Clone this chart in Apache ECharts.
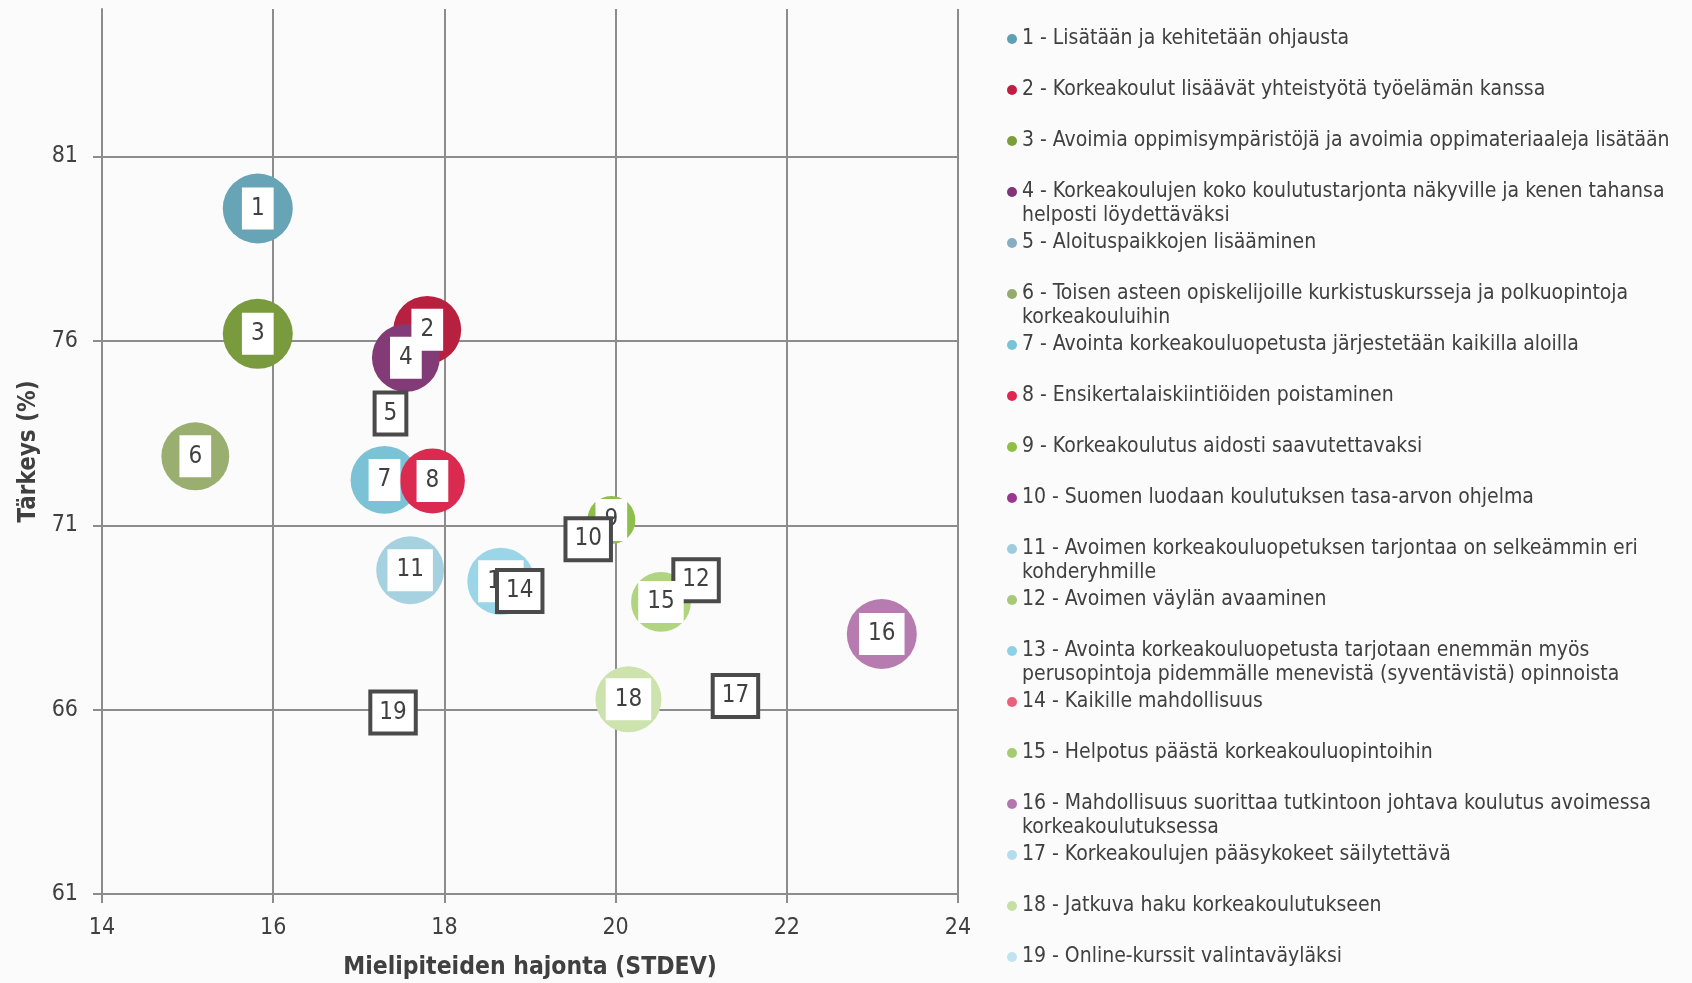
<!DOCTYPE html>
<html>
<head>
<meta charset="utf-8">
<script src="https://cdn.jsdelivr.net/npm/echarts@6/dist/echarts.min.js"></script>
<style>
  html, body { margin: 0; padding: 0; background: #fbfbfb; }
  #chart { width: 1692px; height: 983px; }
</style>
</head>
<body>
<div id="chart"></div>
<script>
// toimenpiteet (legend texts)
var names = [
  '1 - Lisätään ja kehitetään ohjausta',
  '2 - Korkeakoulut lisäävät yhteistyötä työelämän kanssa',
  '3 - Avoimia oppimisympäristöjä ja avoimia oppimateriaaleja lisätään',
  '4 - Korkeakoulujen koko koulutustarjonta näkyville ja kenen tahansa\nhelposti löydettäväksi',
  '5 - Aloituspaikkojen lisääminen',
  '6 - Toisen asteen opiskelijoille kurkistuskursseja ja polkuopintoja\nkorkeakouluihin',
  '7 - Avointa korkeakouluopetusta järjestetään kaikilla aloilla',
  '8 - Ensikertalaiskiintiöiden poistaminen',
  '9 - Korkeakoulutus aidosti saavutettavaksi',
  '10 - Suomen luodaan koulutuksen tasa-arvon ohjelma',
  '11 - Avoimen korkeakouluopetuksen tarjontaa on selkeämmin eri\nkohderyhmille',
  '12 - Avoimen väylän avaaminen',
  '13 - Avointa korkeakouluopetusta tarjotaan enemmän myös\nperusopintoja pidemmälle menevistä (syventävistä) opinnoista',
  '14 - Kaikille mahdollisuus',
  '15 - Helpotus päästä korkeakouluopintoihin',
  '16 - Mahdollisuus suorittaa tutkintoon johtava koulutus avoimessa\nkorkeakoulutuksessa',
  '17 - Korkeakoulujen pääsykokeet säilytettävä',
  '18 - Jatkuva haku korkeakoulutukseen',
  '19 - Online-kurssit valintaväyläksi'
];
var ids = ['1','2','3','4','5','6','7','8','9','10','11','12','13','14','15','16','17','18','19'];
// hajonta (STDEV)
var stdev = [15.82, 17.80, 15.82, 17.55, 17.37, 15.09, 17.30, 17.86, 19.95, 19.68, 17.60, 20.94, 18.66, 18.88, 20.53, 23.11, 21.40, 20.15, 17.40];
// tärkeys (%)
var tarkeys = [79.59, 76.30, 76.19, 75.54, 74.03, 72.87, 72.23, 72.20, 71.14, 70.62, 69.78, 69.51, 69.48, 69.22, 68.92, 68.05, 66.37, 66.28, 65.92];
// kuplan koko
var koko = [100, 94, 100, 94, 0, 94, 94, 86, 47, 0, 94, 0, 92, 0, 73, 100, 0, 89, 0];
var yTicks = [61, 66, 71, 76, 81];

var bubbleColors = ['#67a4b6', '#b8203f', '#7a9b3d', '#833b77', '#86aec0', '#9aae6f', '#7cc2d7', '#db2a50', '#8dbf4a', '#973a8f',
  '#a6d1e1', '#a8c978', '#9bd5e8', '#e9617a', '#b0d47f', '#b77caf', '#b4dcec', '#cde3ad', '#bfe4f0'];
var dotColors = ['#5fa0b4', '#bf1e42', '#7a9e3c', '#7f3577', '#86aec0', '#94ab6c', '#78c3da', '#e02550', '#8fbf45', '#973a8f',
  '#9dcbe0', '#a8c978', '#8ed0e6', '#e9617a', '#a5cc72', '#b278ae', '#b4dcec', '#c6dfa4', '#bfe4f0'];

var FONT = "'DejaVu Sans Condensed', 'Liberation Sans Narrow', 'Noto Sans', sans-serif";
var TXT = '#404040';
var GRID = '#8c8c8c';
var LH = 24;

var chart = echarts.init(document.getElementById('chart'));

var series = names.map(function (n, i) {
  var empty = koko[i] === 0;
  return {
    name: n,
    type: 'scatter',
    color: dotColors[i],
    symbolSize: function (v) { return 70 * Math.sqrt(v[2] / 100); },
    itemStyle: { color: bubbleColors[i], opacity: 1 },
    label: {
      show: true,
      position: 'inside',
      formatter: ids[i],
      fontFamily: FONT,
      fontSize: 24,
      color: TXT,
      backgroundColor: '#ffffff',
      padding: empty ? [8, 7, 6, 7] : [10, 9, 8, 9],
      borderColor: empty ? '#4a4a4a' : 'transparent',
      borderWidth: empty ? 4 : 0
    },
    emphasis: { disabled: true },
    data: [[stdev[i], tarkeys[i], koko[i]]]
  };
});

// every legend row is three text lines high, so the rows are evenly spaced
// and the dot stays on the first line of a wrapped text
var legendData = names.map(function (n, i) {
  var twoLines = n.indexOf('\n') >= 0;
  return {
    name: n,
    itemStyle: { color: dotColors[i] },
    textStyle: { padding: twoLines ? 0 : [LH, 0, LH, 0] }
  };
});

var option = {
  backgroundColor: '#fbfbfb',
  animation: false,
  grid: { left: 102, right: 734, top: 9, bottom: 89, outerBoundsMode: 'none' },
  legend: {
    orient: 'vertical',
    left: 1007,
    top: 3,
    height: 1200,
    padding: 0,
    itemGap: 51 - 3 * LH,
    itemWidth: 10,
    itemHeight: 10,
    icon: 'circle',
    selectedMode: false,
    formatter: function (name) {
      return name.indexOf('\n') >= 0 ? '\n' + name : name;
    },
    textStyle: {
      fontFamily: FONT,
      fontSize: 21,
      color: TXT,
      lineHeight: LH,
      backgroundColor: 'rgba(0,0,0,0)'
    },
    data: legendData
  },
  xAxis: {
    type: 'value',
    min: 14,
    max: 24,
    interval: 2,
    name: 'Mielipiteiden hajonta (STDEV)',
    nameLocation: 'middle',
    nameGap: 61,
    nameTextStyle: { fontFamily: FONT, fontSize: 24.5, fontWeight: 'bold', color: TXT },
    axisLine: { lineStyle: { color: GRID, width: 2 } },
    axisTick: { show: true, length: 9, lineStyle: { color: GRID, width: 2 } },
    axisLabel: { margin: 23, fontFamily: FONT, fontSize: 23, color: TXT },
    splitLine: { show: true, lineStyle: { color: GRID, width: 2 } }
  },
  yAxis: {
    type: 'value',
    min: 61,
    max: 85,
    name: 'Tärkeys (%)',
    nameLocation: 'middle',
    nameGap: 61,
    nameTextStyle: { fontFamily: FONT, fontSize: 24, fontWeight: 'bold', color: TXT },
    axisLine: { show: true, lineStyle: { color: GRID, width: 2 } },
    axisTick: { show: true, length: 9, customValues: yTicks, lineStyle: { color: GRID, width: 2 } },
    axisLabel: { margin: 24, customValues: yTicks, fontFamily: FONT, fontSize: 23, color: TXT },
    splitLine: { show: true, lineStyle: { color: GRID, width: 2 } }
  },
  series: series
};

chart.setOption(option);
</script>
</body>
</html>
